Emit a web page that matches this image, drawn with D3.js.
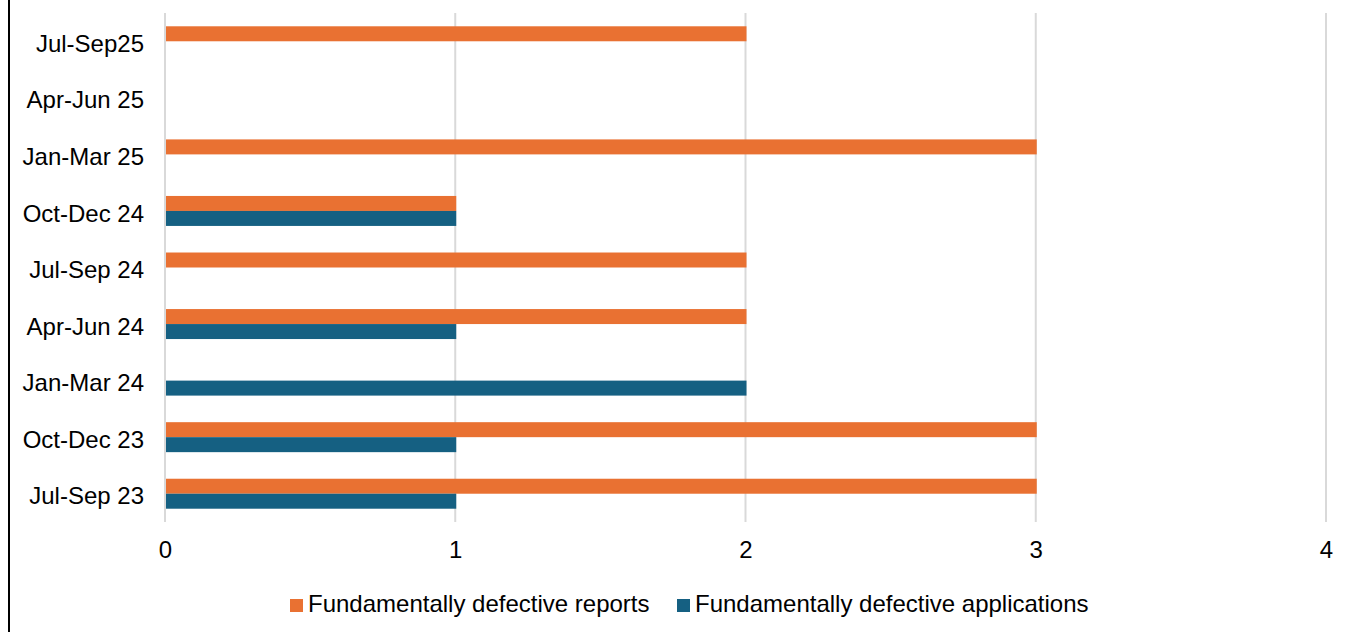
<!DOCTYPE html>
<html>
<head>
<meta charset="utf-8">
<script src="https://cdn.jsdelivr.net/npm/d3@7"></script>
<style>
  html, body { margin: 0; padding: 0; background: #fff; }
  svg { display: block; font-family: Arial, "Liberation Sans", sans-serif; }
</style>
</head>
<body>
<svg id="chart" width="1357" height="632"></svg>
<script>
// Quarters, listed bottom to top
const categories = ["Jul-Sep 23", "Oct-Dec 23", "Jan-Mar 24", "Apr-Jun 24", "Jul-Sep 24",
                    "Oct-Dec 24", "Jan-Mar 25", "Apr-Jun 25", "Jul-Sep25"];
const seriesNames = ["Fundamentally defective reports", "Fundamentally defective applications"];
const reports      = [3, 3, 0, 2, 2, 1, 3, 0, 2];
const applications = [1, 1, 2, 1, 0, 1, 0, 0, 0];
const xTicks = [0, 1, 2, 3, 4];

const colors = ["#E97132", "#156082"];
const seriesValues = [reports, applications];

const svg = d3.select("#chart");
const W = 1357, H = 632;
const plot = { left: 165, right: 1326, top: 13, bottom: 522 };

// Left frame edge
svg.append("line")
  .attr("x1", 9).attr("x2", 9).attr("y1", 0).attr("y2", H)
  .attr("stroke", "#000").attr("stroke-width", 2);

const x = d3.scaleLinear().domain([0, 4]).range([plot.left, plot.right]);
const y = d3.scaleBand().domain(categories)
  .range([plot.bottom, plot.top])
  .paddingInner(0.47).paddingOuter(0.235);
const ySub = d3.scaleBand().domain(seriesNames).range([0, y.bandwidth()]);

// Vertical gridlines (including the value axis at zero)
svg.append("g")
  .selectAll("line")
  .data(xTicks)
  .join("line")
  .attr("x1", d => x(d)).attr("x2", d => x(d))
  .attr("y1", plot.top).attr("y2", plot.bottom)
  .attr("stroke", "#d9d9d9").attr("stroke-width", 2);

// Bars
const groups = svg.append("g")
  .selectAll("g")
  .data(categories)
  .join("g")
  .attr("transform", d => `translate(0,${y(d)})`);

groups.selectAll("rect")
  .data((c, i) => seriesNames.map((s, k) => ({ s, k, v: seriesValues[k][i] })))
  .join("rect")
  .attr("x", x(0) + 1)
  .attr("y", d => ySub(d.s))
  .attr("width", d => Math.max(0, x(d.v) - x(0)))
  .attr("height", ySub.bandwidth())
  .attr("fill", d => colors[d.k]);

// X tick labels
const xAxis = d3.axisBottom(x).tickValues(xTicks).tickSize(0).tickPadding(0).tickFormat(d3.format("d"));
const gx = svg.append("g").attr("transform", `translate(0,${plot.bottom})`).call(xAxis);
gx.select(".domain").remove();
gx.selectAll("text")
  .attr("y", 35.5).attr("dy", 0)
  .attr("font-size", 24).attr("fill", "#000")
  .attr("font-family", "Arial, 'Liberation Sans', sans-serif");

// Category labels
const yAxis = d3.axisLeft(y).tickSize(0).tickPadding(0);
const gy = svg.append("g").attr("transform", `translate(144,0)`).call(yAxis);
gy.select(".domain").remove();
gy.selectAll("text")
  .attr("dy", "0.44em")
  .attr("font-size", 24).attr("fill", "#000")
  .attr("font-family", "Arial, 'Liberation Sans', sans-serif");

// Legend
const legendItems = [
  { name: seriesNames[0], color: colors[0], x: 290 },
  { name: seriesNames[1], color: colors[1], x: 677 }
];
const lg = svg.append("g").selectAll("g").data(legendItems).join("g")
  .attr("transform", d => `translate(${d.x},599)`);
lg.append("rect").attr("width", 13).attr("height", 13).attr("fill", d => d.color);
lg.append("text")
  .attr("x", 18).attr("y", 13)
  .attr("font-size", 24).attr("fill", "#000")
  .text(d => d.name);
</script>
</body>
</html>
